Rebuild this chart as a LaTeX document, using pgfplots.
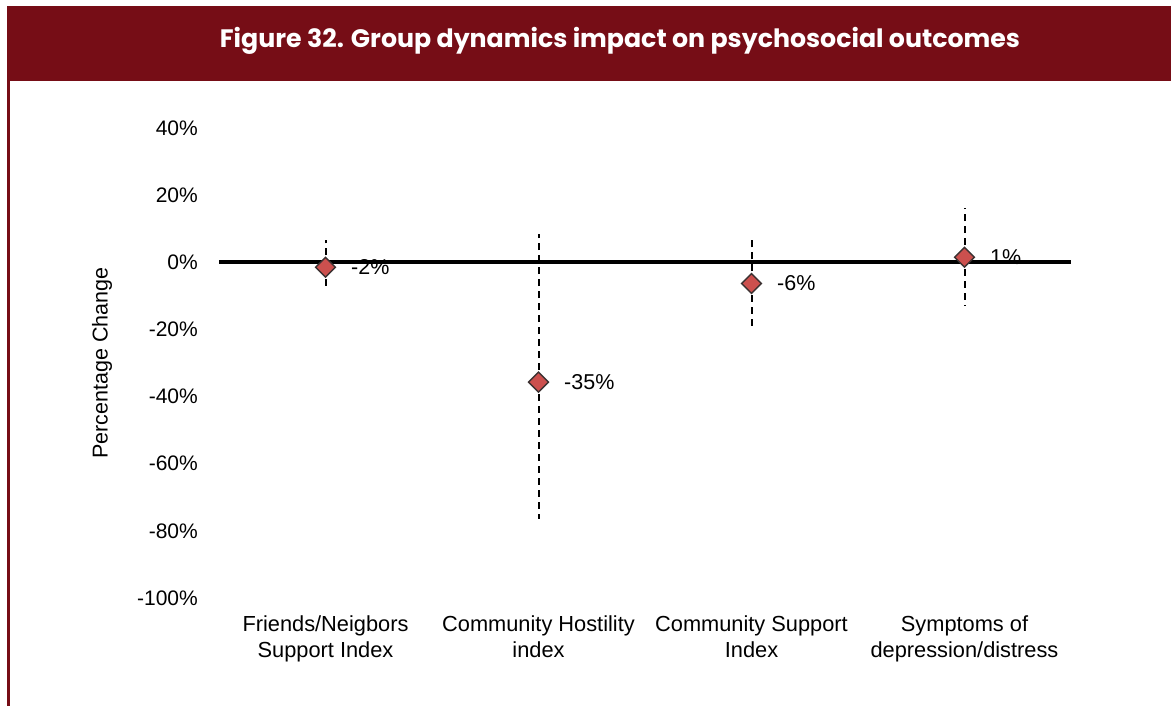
\documentclass[border=0pt]{standalone}
\usepackage{fontspec}
\setmainfont{Liberation Sans}
\newfontfamily\titlefont{Poppins}
\usepackage{pgfplots}
\pgfplotsset{compat=1.18}
\usepackage{graphicx}

\definecolor{hdr}{RGB}{118,13,22}
\definecolor{mk}{RGB}{204,80,78}
\definecolor{mkb}{RGB}{60,50,50}

\begin{document}
\begin{tikzpicture}[x=1pt,y=1pt]
\path[use as bounding box] (0,0) rectangle (1171,706);
\fill[hdr] (7,625) rectangle (1171,700);
\fill[hdr] (7,0) rectangle (10,625);
\node[anchor=base, text=white, inner sep=0pt] at (620,658) {\resizebox{800pt}{!}{\titlefont\bfseries Figure 32. Group dynamics impact on psychosocial outcomes}};
\begin{axis}[
  at={(219pt,108pt)}, anchor=south west,
  scale only axis, width=852pt, height=470pt,
  xmin=-0.5, xmax=3.5, ymin=-100, ymax=40,
  axis line style={draw=none},
  major tick length=0pt,
  clip=false,
  ytick={-100,-80,...,40},
  yticklabels={-100\%,-80\%,-60\%,-40\%,-20\%,0\%,20\%,40\%},
  xtick={0,1,2,3},
  xticklabels={{Friends/Neigbors\\Support Index},{Community Hostility\\index},{Community Support\\Index},{Symptoms of\\depression/distress}},
  yticklabel style={font=\fontsize{21}{26}\selectfont, anchor=east, inner sep=0pt, xshift=-21pt},
  xticklabel style={font=\fontsize{21.8}{26}\selectfont, anchor=north, inner sep=0pt, yshift=-18pt, align=center},
  ylabel={Percentage Change},
  ylabel style={at={(axis description cs:-0.1373,0.5)}, anchor=center, font=\fontsize{21.5}{26}\selectfont},
]
\addplot[only marks, mark=none, forget plot,
  error bars/.cd, y dir=both, y explicit, error mark=none,
  error bar style={draw=black, line width=2pt, dash pattern=on 7pt off 5pt}]
  coordinates {
  (0,-1.5) += (0,8.1) -= (0,7.1)
  (1,-35.7) += (0,44.0) -= (0,40.9)
  (2,-6.3) += (0,14.0) -= (0,14.0)
  (3,1.5) += (0,14.6) -= (0,14.6)
  };
\draw[line width=3.8pt, black] (axis cs:-0.5,0) -- (axis cs:3.5,0);
\addplot[only marks, mark=square*, mark size=7pt,
  mark options={rotate=45, fill=mk, draw=mkb, line width=1.4pt},
  point meta=explicit symbolic,
  nodes near coords,
  nodes near coords style={anchor=west, inner sep=0pt, xshift=25pt, font=\fontsize{21.5}{26}\selectfont, text=black}]
  coordinates {
  (0,-1.5) [-2\%]
  (1,-35.7) [-35\%]
  (2,-6.3) [-6\%]
  (3,1.5) [1\%]
  };
\end{axis}
\end{tikzpicture}
\end{document}
